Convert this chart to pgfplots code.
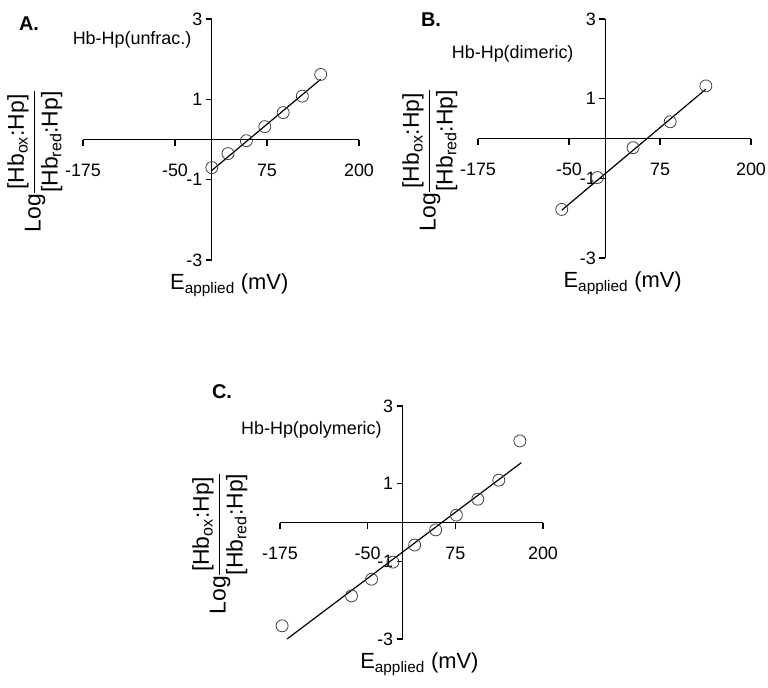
\documentclass[border=0pt]{standalone}
\usepackage{fontspec}
\setmainfont{Liberation Sans}
\usepackage{amsmath}
\usepackage{pgfplots}
\pgfplotsset{compat=1.18}
\pgfplotsset{
  panel/.style={
    scale only axis,
    anchor=south west,
    axis lines=middle,
    axis line style={-, line width=1.1bp, black},
    xmin=-175, xmax=200, ymin=-3, ymax=3,
    xtick={-175,-50,75,200}, xticklabels={-175,-50,75,200},
    ytick={-3,-1,1,3}, yticklabels={-3,-1,1,3},
    tick align=outside,
    major tick length=6bp,
    tick style={line width=1.1bp, black},
    ticklabel style={font=\fontsize{18}{20}\selectfont},
    xticklabel style={yshift=-15bp},
    xlabel={E\textsubscript{applied} (mV)},
    xlabel style={font=\fontsize{22}{26}\selectfont, at={([yshift=-10bp]rel axis cs:0.53,0)}, anchor=north},
    ylabel={Log$\dfrac{\text{[Hb\textsubscript{ox}:Hp]}}{\text{[Hb\textsubscript{red}:Hp]}}$},
    ylabel style={font=\fontsize{23}{27}\selectfont, rotate=90, at={([xshift=-\ylabshift]rel axis cs:0,0.41)}, anchor=south},
    clip=false,
  },
  fitline/.style={black, line width=1.2bp, no marks},
  pts/.style={only marks, mark=o, mark size=6bp, mark options={black!75, line width=0.8bp}},
}
\newcommand\ylabshift{17bp}
\begin{document}
\begin{tikzpicture}
\path[use as bounding box] (0,0) rectangle (768bp,-688bp);
% Panel A
\begin{axis}[panel, at={(83bp,-260bp)}, width=276bp, height=241bp]
\addplot[fitline] coordinates {(0,-0.77) (148,1.5)};
\addplot[pts] coordinates {(0,-0.7) (22,-0.35) (47,-0.03) (72,0.32) (97,0.67) (123,1.08) (148,1.62)};
\node[anchor=east, font=\fontsize{18}{20}\selectfont] at (axis cs:-23,2.47) {Hb-Hp(unfrac.)};
\end{axis}
% Panel B
\begin{axis}[panel, at={(478bp,-258bp)}, width=273bp, height=239bp]
\addplot[fitline] coordinates {(-60,-1.80) (138,1.24)};
\addplot[pts] coordinates {(-60,-1.78) (-11,-0.98) (38,-0.23) (89,0.42) (138,1.32)};
\node[anchor=east, font=\fontsize{18}{20}\selectfont] at (axis cs:-39,2.12) {Hb-Hp(dimeric)};
\end{axis}
% Panel C
\renewcommand\ylabshift{29bp}
\begin{axis}[panel, at={(280bp,-639bp)}, width=263bp, height=233bp]
\addplot[fitline] coordinates {(-165,-3.0) (169,1.54)};
\addplot[pts] coordinates {(-172,-2.66) (-73,-1.89) (-44.5,-1.46) (-14,-1.02) (17,-0.58) (47,-0.19) (76.5,0.19) (107,0.60) (137,1.09) (167,2.10)};
\node[anchor=east, font=\fontsize{18}{20}\selectfont] at (axis cs:-25,2.38) {Hb-Hp(polymeric)};
\end{axis}
\node[font=\bfseries\fontsize{20}{24}\selectfont] at (29bp,-24bp) {A.};
\node[font=\bfseries\fontsize{20}{24}\selectfont] at (431bp,-20bp) {B.};
\node[font=\bfseries\fontsize{20}{24}\selectfont] at (222bp,-392bp) {C.};
\end{tikzpicture}
\end{document}
